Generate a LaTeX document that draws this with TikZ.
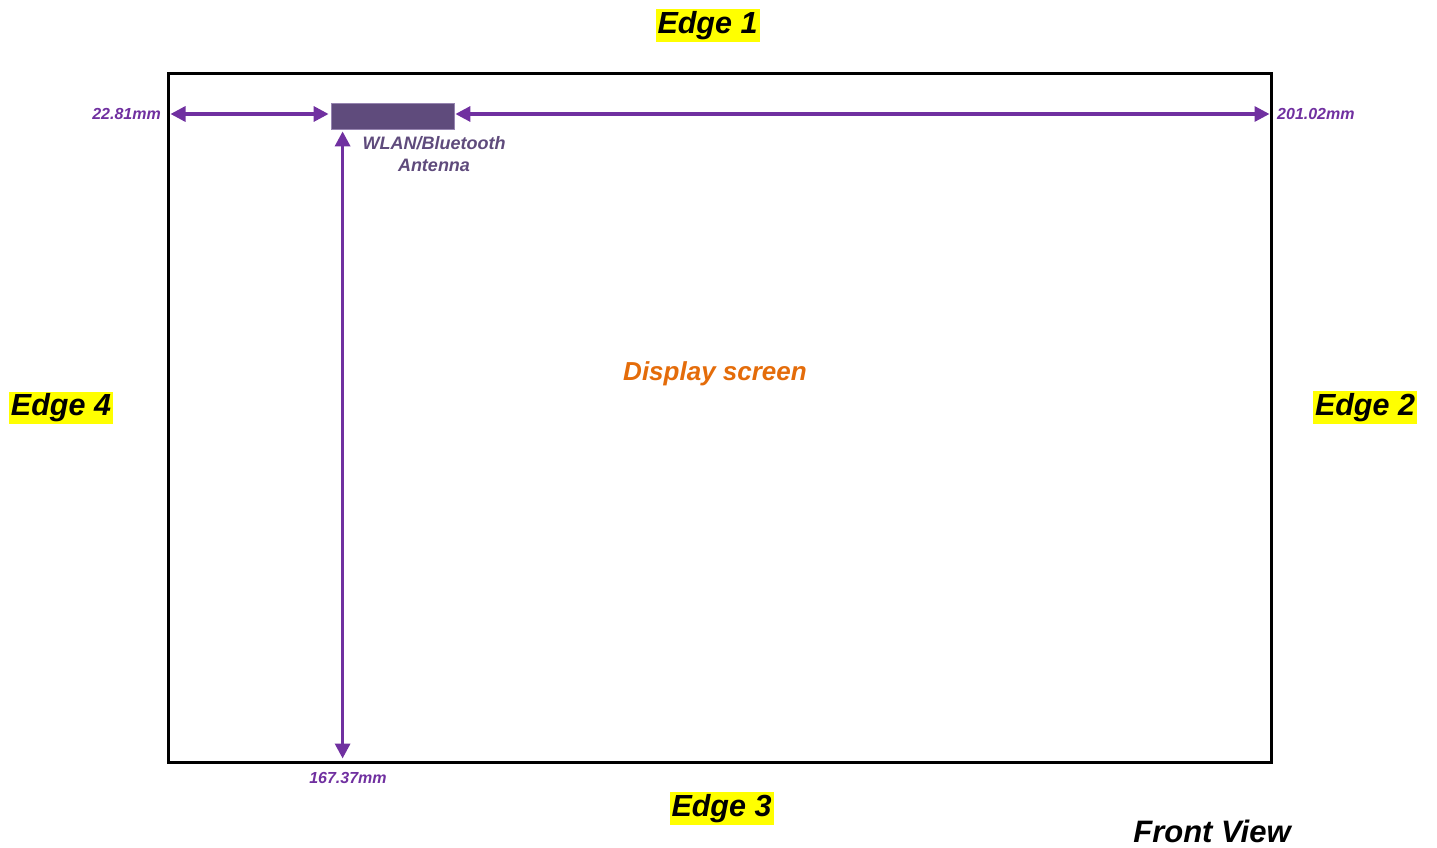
\documentclass[tikz,border=0pt]{standalone}
\usepackage{fontspec}
\setmainfont{Liberation Sans}
\usetikzlibrary{arrows.meta,calc,positioning}
\definecolor{DimClr}{RGB}{112,48,160}
\definecolor{AntClr}{RGB}{95,75,124}
\definecolor{AntEdge}{RGB}{150,132,176}
\definecolor{ScreenClr}{RGB}{228,108,10}
\definecolor{EdgeBg}{RGB}{255,255,0}

\begin{document}
\begin{tikzpicture}[x=1pt,y=-1pt,
  edgelabel/.style={fill=EdgeBg,font=\fontsize{30.5}{34}\selectfont\bfseries\itshape,
    inner xsep=2pt,inner ysep=1pt,text height=23pt,text depth=7.5pt},
  dimlabel/.style={text=DimClr,font=\fontsize{16}{18}\selectfont\bfseries\itshape,inner sep=0pt},
  dimarrow/.style={DimClr,line width=3.3pt,{Triangle[length=15pt,width=15pt]}-{Triangle[length=15pt,width=15pt]}}]
\useasboundingbox (0,0) rectangle (1437,848);

\node[draw,line width=3pt,minimum width=1103pt,minimum height=688pt,inner sep=0pt] (screen) at (719.5,418) {};
\node[fill=AntClr,draw=AntEdge,line width=0.8pt,minimum width=123pt,minimum height=26pt,inner sep=0pt] (ant) at (392.5,116) {};

\node[text=AntClr,font=\fontsize{18}{21.5}\selectfont\bfseries\itshape,align=center,inner sep=0pt] (antlbl) at (434,154) {WLAN/Bluetooth\\Antenna};
\node[text=ScreenClr,font=\fontsize{26}{30}\selectfont\bfseries\itshape,inner sep=0pt] (disp) at (715,374) {Display screen};

\coordinate (lend) at ($(screen.west |- ant.west)+(4,-2)$);
\coordinate (rend) at ($(screen.east |- ant.east)+(-3,-2)$);
\coordinate (antr) at ($(ant.east)+(1,-2)$);
\coordinate (antl) at ($(ant.west)+(-2,-2)$);
\coordinate (vtop) at ($(ant.south west)+(12,2)$);
\coordinate (vbot) at ($(screen.south west -| vtop)+(0,-5)$);

\draw[dimarrow] (lend) -- (antl);
\draw[dimarrow] (antr) -- (rend);
\draw[dimarrow] (vtop) -- (vbot);

\node[dimlabel,anchor=east] (dleft) at (161,113.5) {22.81mm};
\node[dimlabel,anchor=west] (dright) at (1277,113.5) {201.02mm};
\node[dimlabel] (dbottom) at (348,777.5) {167.37mm};

\node[edgelabel] (e1) at (707.5,25.5) {Edge 1};
\node[edgelabel] (e2) at (1365,407.5) {Edge 2};
\node[edgelabel] (e3) at (721.5,808.5) {Edge 3};
\node[edgelabel] (e4) at (61,408) {Edge 4};

\node[font=\fontsize{31}{34}\selectfont\bfseries\itshape,inner sep=0pt] (front) at (1212,831) {Front View};
\end{tikzpicture}
\end{document}
